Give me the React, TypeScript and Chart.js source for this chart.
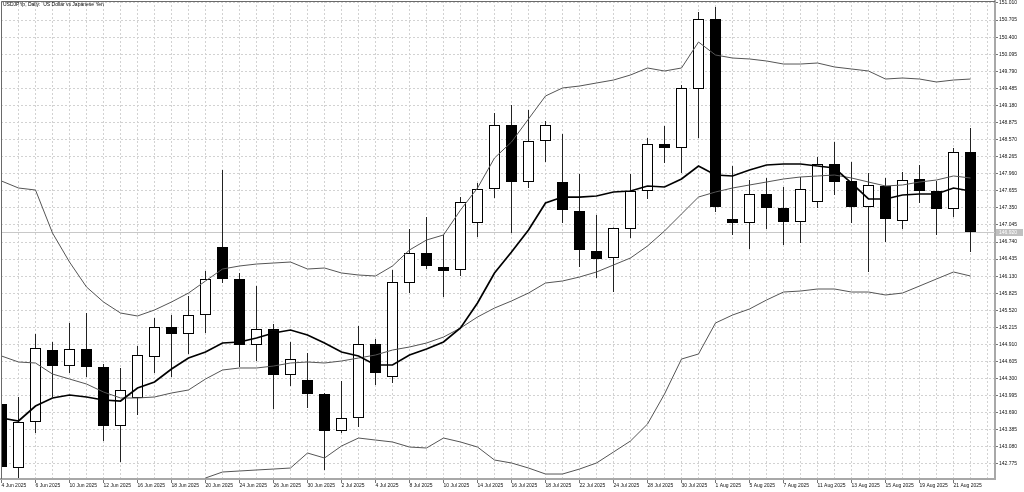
import { useEffect, useRef } from "react";
import { Chart, registerables } from "chart.js";

Chart.register(...registerables);

const chartTitle = "USDJPYp, Daily:  US Dollar vs Japanese Yen";

const dates = [
  "4 Jun 2025", "5 Jun 2025", "6 Jun 2025", "9 Jun 2025", "10 Jun 2025", "11 Jun 2025", "12 Jun 2025",
  "13 Jun 2025", "16 Jun 2025", "17 Jun 2025", "18 Jun 2025", "19 Jun 2025", "20 Jun 2025", "23 Jun 2025",
  "24 Jun 2025", "25 Jun 2025", "26 Jun 2025", "27 Jun 2025", "30 Jun 2025", "1 Jul 2025", "2 Jul 2025",
  "3 Jul 2025", "4 Jul 2025", "7 Jul 2025", "8 Jul 2025", "9 Jul 2025", "10 Jul 2025", "11 Jul 2025",
  "14 Jul 2025", "15 Jul 2025", "16 Jul 2025", "17 Jul 2025", "18 Jul 2025", "21 Jul 2025", "22 Jul 2025",
  "23 Jul 2025", "24 Jul 2025", "25 Jul 2025", "28 Jul 2025", "29 Jul 2025", "30 Jul 2025", "31 Jul 2025",
  "1 Aug 2025", "4 Aug 2025", "5 Aug 2025", "6 Aug 2025", "7 Aug 2025", "8 Aug 2025", "11 Aug 2025",
  "12 Aug 2025", "13 Aug 2025", "14 Aug 2025", "15 Aug 2025", "18 Aug 2025", "19 Aug 2025", "20 Aug 2025",
  "21 Aug 2025", "22 Aug 2025",
];

const opens = [
  143.847, 142.703, 143.525, 144.811, 144.525, 144.829, 144.508, 143.454, 143.954, 144.686,
  145.222, 145.097, 145.436, 146.651, 146.080, 144.901, 145.186, 144.365, 144.275, 144.025,
  143.364, 143.596, 144.918, 144.329, 146.008, 146.544, 146.294, 146.240, 147.080, 147.687,
  148.831, 147.812, 148.545, 147.812, 147.294, 146.580, 146.455, 146.973, 147.652, 148.491,
  148.420, 149.474, 150.724, 147.151, 147.080, 147.598, 147.348, 147.098, 147.455, 148.134,
  147.830, 147.366, 147.741, 147.116, 147.866, 147.652, 147.330, 148.348,
];
const highs = [
  143.954, 143.972, 145.097, 144.954, 145.294, 145.472, 144.561, 144.490, 144.883, 145.383,
  145.436, 145.776, 146.222, 148.027, 146.187, 145.954, 145.276, 144.954, 144.758, 144.043,
  144.257, 145.240, 145.008, 146.240, 146.973, 147.187, 146.866, 147.544, 147.794, 149.045,
  149.188, 149.099, 148.902, 148.670, 147.955, 147.223, 147.000, 147.955, 148.598, 148.813,
  149.545, 150.849, 150.939, 148.098, 147.848, 147.884, 147.723, 147.902, 148.259, 148.527,
  148.170, 147.973, 147.884, 147.991, 148.116, 147.830, 148.420, 148.777,
];
const lows = [
  142.632, 142.525, 143.328, 143.972, 144.400, 144.329, 143.186, 142.810, 143.650, 144.400,
  144.329, 144.740, 145.115, 146.008, 144.508, 144.615, 143.757, 144.168, 143.775, 142.668,
  143.328, 143.436, 144.186, 144.222, 145.829, 146.258, 145.758, 146.133, 146.830, 147.527,
  146.901, 147.705, 148.170, 147.080, 146.294, 146.097, 145.847, 146.812, 147.509, 148.152,
  147.973, 148.598, 147.276, 146.866, 146.615, 146.973, 146.687, 146.723, 147.348, 147.580,
  147.080, 146.205, 146.741, 146.973, 147.437, 146.866, 147.187, 146.562,
];
const closes = [
  142.721, 143.525, 144.847, 144.525, 144.829, 144.508, 143.454, 144.097, 144.722, 145.222,
  145.097, 145.436, 146.080, 146.080, 144.901, 145.186, 144.365, 144.650, 144.025, 143.364,
  143.596, 144.918, 144.400, 146.026, 146.544, 146.312, 146.222, 147.455, 147.687, 148.831,
  147.812, 148.545, 148.831, 147.312, 146.598, 146.437, 146.991, 147.652, 148.491, 148.420,
  149.492, 150.724, 147.366, 147.080, 147.598, 147.348, 147.098, 147.687, 148.134, 147.812,
  147.366, 147.759, 147.151, 147.848, 147.652, 147.330, 148.348, 146.920,
];

const movingAverage = [
  143.596, 143.543, 143.811, 143.954, 144.007, 143.972, 143.918, 143.900, 144.132, 144.240,
  144.472, 144.668, 144.775, 144.936, 144.954, 145.026, 145.115, 145.168, 145.079, 144.936,
  144.775, 144.704, 144.543, 144.543, 144.722, 144.829, 144.954, 145.204, 145.651, 146.187,
  146.562, 146.955, 147.437, 147.544, 147.544, 147.562, 147.634, 147.652, 147.741, 147.723,
  147.866, 148.098, 147.937, 147.920, 148.027, 148.116, 148.134, 148.134, 148.098, 148.062,
  147.794, 147.509, 147.509, 147.580, 147.598, 147.598, 147.705, 147.652,
];
const bandUpper = [
  147.830, 147.705, 147.669, 146.901, 146.383, 145.937, 145.669, 145.472, 145.419, 145.526,
  145.669, 145.829, 146.044, 146.258, 146.312, 146.347, 146.365, 146.383, 146.258, 146.276,
  146.187, 146.151, 146.133, 146.312, 146.598, 146.776, 146.866, 147.312, 147.705, 148.241,
  148.527, 148.938, 149.349, 149.492, 149.527, 149.581, 149.634, 149.724, 149.849, 149.795,
  149.849, 150.313, 150.081, 150.027, 150.010, 149.974, 149.920, 149.920, 149.938, 149.867,
  149.831, 149.795, 149.652, 149.670, 149.652, 149.599, 149.634, 149.652,
];
const bandMiddle = [
  144.704, 144.597, 144.579, 144.382, 144.293, 144.204, 144.061, 143.954, 143.954, 143.972,
  144.043, 144.097, 144.293, 144.454, 144.490, 144.490, 144.525, 144.579, 144.597, 144.579,
  144.615, 144.668, 144.722, 144.811, 144.865, 144.936, 145.043, 145.204, 145.401, 145.561,
  145.687, 145.829, 146.008, 146.044, 146.115, 146.205, 146.330, 146.455, 146.669, 146.937,
  147.241, 147.544, 147.634, 147.705, 147.759, 147.812, 147.866, 147.902, 147.920, 147.937,
  147.884, 147.812, 147.741, 147.759, 147.812, 147.848, 147.920, 147.884,
];
// below the visible range until 20 Jun
const bandLower = [
  null, null, null, null, null, null, null, null, null, null,
  null, null, 142.525, 142.632, 142.650, 142.668, 142.685, 142.703, 142.971, 142.882,
  143.096, 143.239, 143.203, 143.168, 143.078, 143.061, 143.239, 143.168, 143.078, 142.846,
  142.793, 142.703, 142.596, 142.596, 142.685, 142.793, 142.989, 143.186, 143.489, 144.025,
  144.650, 144.740, 145.294, 145.436, 145.544, 145.704, 145.847, 145.865, 145.901, 145.901,
  145.847, 145.847, 145.794, 145.829, 145.954, 146.080, 146.205, 146.133,
];

const priceTicks = [
  142.775, 143.08, 143.385, 143.69, 143.995, 144.3, 144.605, 144.91, 145.215, 145.52,
  145.825, 146.13, 146.435, 146.74, 147.045, 147.35, 147.655, 147.96, 148.265, 148.57,
  148.875, 149.18, 149.485, 149.79, 150.095, 150.4, 150.705, 151.01,
];

const FONT = "'Liberation Sans', Arial, sans-serif";
const GRID = "#d2d2d2";

const terminalLook = {
  id: "terminalLook",
  beforeDatasetsDraw(chart: any) {
    const { ctx, chartArea, scales } = chart;
    const y = Math.round(scales.y.getPixelForValue(closes[closes.length - 1])) + 0.5;
    ctx.save();
    ctx.strokeStyle = "#c8c8c8";
    ctx.lineWidth = 1;
    ctx.beginPath();
    ctx.moveTo(chartArea.left, y);
    ctx.lineTo(chartArea.right, y);
    ctx.stroke();
    ctx.restore();
  },
  afterDraw(chart: any) {
    const { ctx, chartArea, scales } = chart;
    ctx.save();
    // frame top / left
    ctx.strokeStyle = "#6a6a6a";
    ctx.lineWidth = 1;
    ctx.beginPath();
    ctx.moveTo(chartArea.left + 0.5, chartArea.bottom);
    ctx.lineTo(chartArea.left + 0.5, chartArea.top + 0.5);
    ctx.lineTo(chartArea.right, chartArea.top + 0.5);
    ctx.stroke();

    ctx.font = `5px ${FONT}`;
    ctx.fillStyle = "#000";
    ctx.textBaseline = "middle";
    ctx.textAlign = "left";
    ctx.fillText(chartTitle, chartArea.left + 2, chartArea.top + 4);

    // last price marker
    const last = closes[closes.length - 1];
    const y = Math.round(scales.y.getPixelForValue(last)) + 0.5;
    ctx.fillStyle = "#c0c0c0";
    ctx.fillRect(chartArea.right + 1, y - 3.5, 27, 7);
    ctx.fillStyle = "#fff";
    ctx.fillText(last.toFixed(3), chartArea.right + 4, y);
    ctx.restore();
  },
};

const App = () => {
  const chartRef = useRef(null);

  useEffect(() => {
    //@ts-ignore
    const ctx = chartRef.current.getContext("2d");

    const chart = new Chart(ctx, {
      type: "bar",
      data: {
        datasets: [
          {
            type: "line",
            label: "MA",
            data: movingAverage.map((v, i) => ({ x: i, y: v })),
            borderColor: "#000",
            borderWidth: 1.7,
            pointRadius: 0,
            tension: 0,
            order: 0,
          },
          {
            type: "line",
            label: "Upper",
            data: bandUpper.map((v, i) => ({ x: i, y: v })),
            borderColor: "#555",
            borderWidth: 1,
            pointRadius: 0,
            tension: 0,
            order: 1,
          },
          {
            type: "line",
            label: "Middle",
            data: bandMiddle.map((v, i) => ({ x: i, y: v })),
            borderColor: "#555",
            borderWidth: 1,
            pointRadius: 0,
            tension: 0,
            order: 1,
          },
          {
            type: "line",
            label: "Lower",
            data: bandLower.map((v, i) => ({ x: i, y: v })),
            borderColor: "#555",
            borderWidth: 1,
            pointRadius: 0,
            tension: 0,
            order: 1,
          },
          {
            label: "Body",
            data: opens.map((o, i) => ({ x: i, y: [o, closes[i]] })),
            backgroundColor: opens.map((o, i) => (closes[i] < o ? "#000" : "#fff")),
            borderColor: "#000",
            borderWidth: 1,
            borderSkipped: false,
            inflateAmount: 0,
            barThickness: 11,
            grouped: false,
            order: 2,
          },
          {
            label: "Wick",
            data: lows.map((l, i) => ({ x: i, y: [l, highs[i]] })),
            backgroundColor: "#222",
            borderWidth: 0,
            inflateAmount: 0,
            barThickness: 1,
            grouped: false,
            order: 3,
          },
        ] as any,
      },
      options: {
        responsive: false,
        animation: false,
        events: [],
        layout: { padding: { top: 1, left: 1, right: 0, bottom: 0 } },
        plugins: {
          legend: { display: false },
          tooltip: { enabled: false },
        },
        scales: {
          x: {
            type: "linear",
            min: -0.5 / 17,
            max: -0.5 / 17 + 994 / 17,
            offset: false,
            afterBuildTicks: (s: any) => {
              s.ticks = [...dates, ""].map((_, i) => ({ value: i }));
            },
            afterFit: (s: any) => {
              s.height = 13;
              s.paddingLeft = 0;
              s.paddingRight = 0;
            },
            grid: {
              color: GRID,
              offset: false,
              tickLength: 4,
              tickColor: (c: any) =>
                c.index % 2 === 0 && c.index < dates.length ? "#777" : "rgba(0,0,0,0)",
            },
            border: { color: "#a8a8a8", width: 2, dash: [2, 2] },
            ticks: {
              autoSkip: false,
              maxRotation: 0,
              minRotation: 0,
              align: "start",
              padding: 0,
              color: "#111",
              font: { family: FONT, size: 5 },
              callback: (v: any) => {
                const i = Math.round(Number(v));
                return i % 2 === 0 && dates[i] ? dates[i] : "";
              },
            },
          },
          y: {
            type: "linear",
            position: "right",
            min: 142.507,
            max: 151.0457,
            beginAtZero: false,
            afterBuildTicks: (s: any) => {
              s.ticks = priceTicks.map((v) => ({ value: v }));
            },
            afterFit: (s: any) => {
              s.width = 29;
              s.paddingTop = 0;
              s.paddingBottom = 0;
            },
            grid: { color: GRID, tickLength: 3, tickColor: "#777" },
            border: { color: "#a8a8a8", width: 2, dash: [2, 2] },
            ticks: {
              autoSkip: false,
              padding: 1,
              color: "#111",
              font: { family: FONT, size: 5 },
              callback: (v: any) => Number(v).toFixed(3),
            },
          },
        },
      } as any,
      plugins: [terminalLook],
    });

    return () => {
      chart.destroy();
    };
  }, []);

  return (
    <div style={{ position: "absolute", left: 0, top: 0, width: "1024px", height: "492px", background: "#fff" }}>
      <canvas ref={chartRef} width={1024} height={492}></canvas>
    </div>
  );
};

export default App;
